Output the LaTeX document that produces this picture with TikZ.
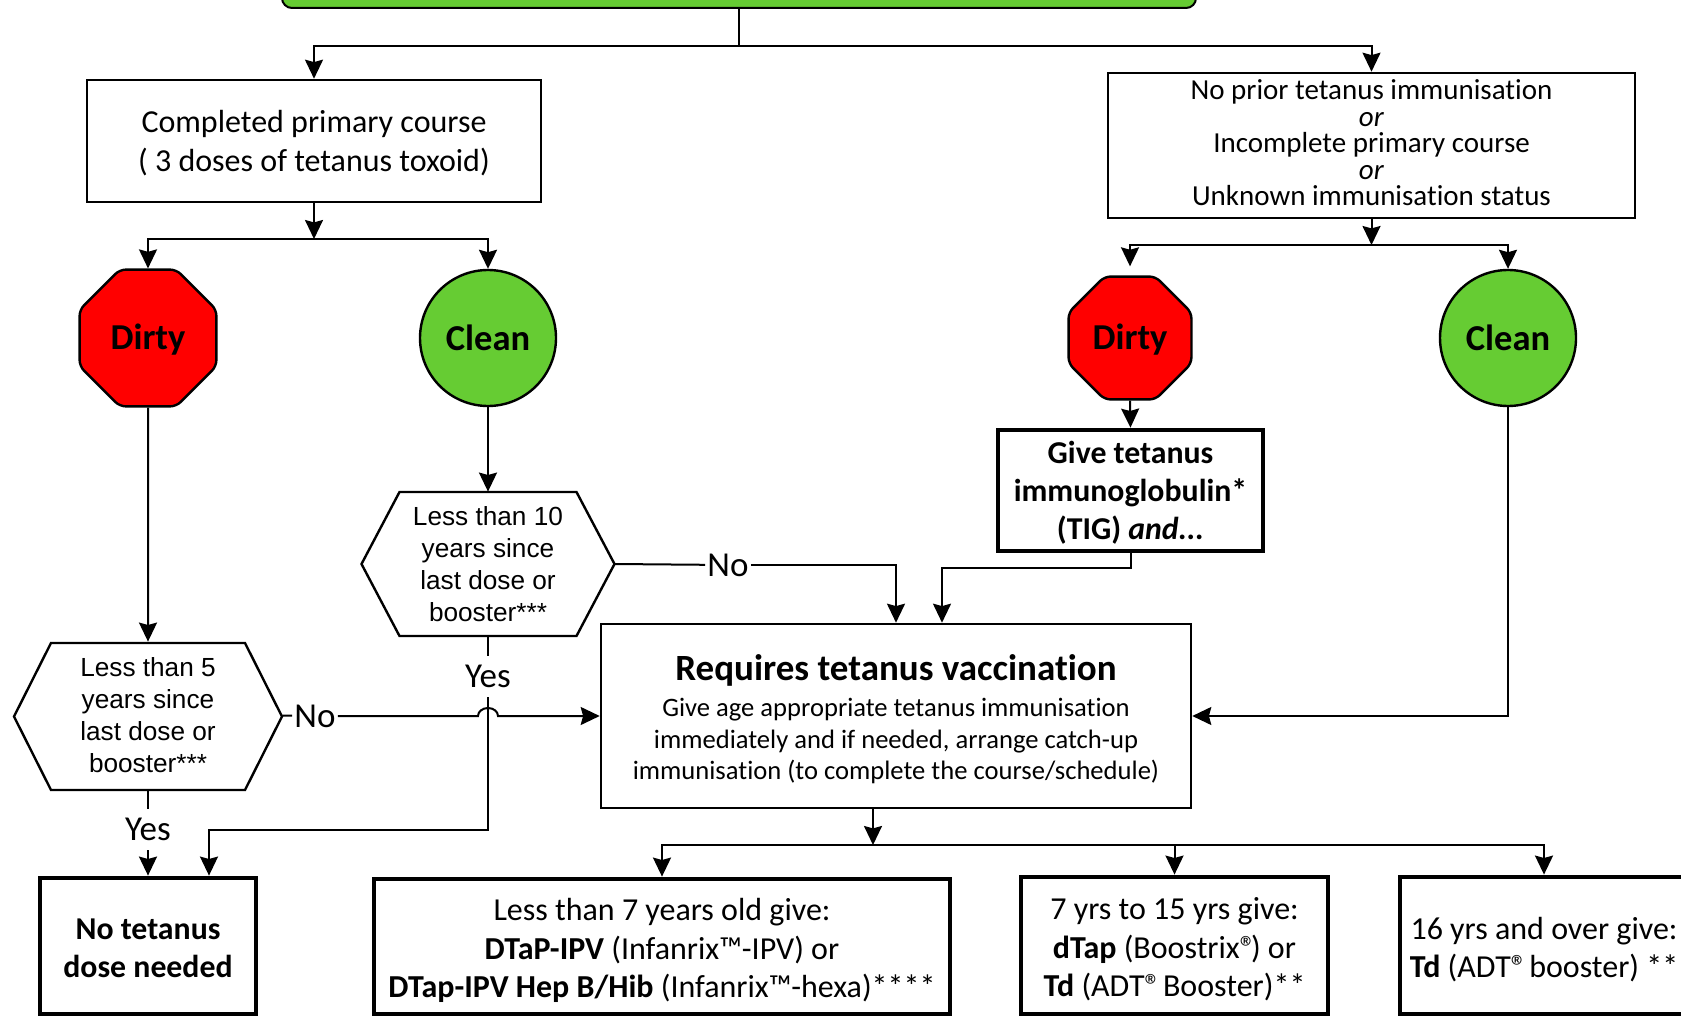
\documentclass[tikz,border=0pt]{standalone}
\usepackage{fontspec}
\setmainfont{Carlito}[Ligatures=NoCommon]
\newfontfamily\arialf{Liberation Sans}
\usetikzlibrary{arrows.meta,shapes.geometric,calc}
\definecolor{gr}{RGB}{102,204,51}
\definecolor{rd}{RGB}{255,0,0}
\newcommand\tightls{\lineskiplimit=-20pt\relax}
\newcommand\regm{®\kern-2.5pt\relax}
\begin{document}
\begin{tikzpicture}[x=0.5pt,y=-0.5pt,
  conn/.style={line width=1pt,-{Stealth[length=9.5pt,width=9pt,inset=1.2pt]}},
  plain/.style={line width=1pt},
  box/.style={draw,line width=1.3pt,inner sep=0pt,align=center},
  tbox/.style={draw,line width=2.4pt,inner sep=0pt,align=center},
  txt/.style={align=center,inner sep=0pt,font=\fontsize{16}{19.25}\selectfont},
  boldtxt/.style={align=center,inner sep=0pt,font=\fontsize{15.9}{19}\selectfont\bfseries},
  oct/.style={regular polygon,regular polygon sides=8,draw,line width=1.2pt,fill=rd,rounded corners=3pt,inner sep=0pt,font=\fontsize{18.25}{20}\selectfont\bfseries},
  cir/.style={circle,draw,line width=1.2pt,fill=gr,inner sep=0pt,minimum size=68pt,font=\fontsize{18.25}{20}\selectfont\bfseries},
  hexlbl/.style={inner sep=0pt,align=center,font=\arialf\fontsize{13.1}{16}\selectfont},
  hexline/.style={draw,line width=1.2pt,line join=miter},
  lbl/.style={fill=white,inner xsep=1pt,inner ysep=4.5pt,font=\fontsize{17.5}{18}\selectfont},
]
\useasboundingbox (0,0) rectangle (1681,1016);
\fill[white] (0,0) rectangle (1681,1016);
\clip (0,0) rectangle (1681,1016);

% top box (cut off)
\node[draw,line width=1pt,fill=gr,rounded corners=5pt,minimum width=457pt,minimum height=30pt,inner sep=0pt] (top) at (739,-22) {};

% main boxes
\node[box,minimum width=227pt,minimum height=61pt,
  label={[txt,yshift=-1pt]center:Completed primary course\\( 3 doses of tetanus toxoid)}] (comp) at (314,141) {};
\node[box,minimum width=263.5pt,minimum height=72.5pt,
  label={[align=center,inner sep=0pt,font=\fontsize{14.5}{13.25}\selectfont\tightls,yshift=1.3pt]center:No prior tetanus immunisation\\\textit{or}\\Incomplete primary course\\\textit{or}\\Unknown immunisation status}] (noprior) at (1371.5,145.5) {};

% wound types
\node[oct,minimum size=74pt,text depth=1.5pt] (dirtyL) at (148,338) {Dirty};
\node[cir] (cleanL) at (488,338) {Clean};
\node[oct,minimum size=66.5pt,text depth=1.5pt] (dirtyR) at (1130,338) {Dirty};
\node[cir] (cleanR) at (1508,338) {Clean};

% hexagons
\node[hexlbl,minimum width=134pt,minimum height=73.5pt] (hexA) at (148,715.5) {Less than 5\\years since\\last dose or\\booster***};
\draw[hexline] (14,716.5) -- (51,643) -- (245,643) -- (282,716.5) -- (245,790) -- (51,790) -- cycle;
\node[hexlbl,minimum width=126.5pt,minimum height=72pt] (hexB) at (488,564) {Less than 10\\years since\\last dose or\\booster***};
\draw[hexline] (361.5,564) -- (399.5,492) -- (576.5,492) -- (614.5,564) -- (576.5,636) -- (399.5,636) -- cycle;

% TIG
\node[tbox,minimum width=132.5pt,minimum height=60.5pt,
  label={[boldtxt,yshift=-1pt]center:Give tetanus\\immunoglobulin*\\(TIG) \textit{and...}}] (tig) at (1130.5,490.5) {};

% requires vaccination
\node[box,minimum width=295pt,minimum height=92pt] (req) at (896,716) {};
\node[font=\fontsize{18.5}{20}\selectfont\bfseries,inner sep=0pt] (reqt) at (896,670) {Requires tetanus vaccination};
\node[align=center,inner sep=0pt,font=\fontsize{13.3}{15.75}\selectfont] (reqb) at (896,741) {Give age appropriate tetanus immunisation\\immediately and if needed, arrange catch-up\\immunisation (to complete the course/schedule)};

% bottom boxes
\node[tbox,minimum width=108pt,minimum height=68pt,
  label={[boldtxt,yshift=-1.3pt]center:No tetanus\\dose needed}] (notet) at (148,946) {};
\node[tbox,minimum width=288pt,minimum height=67.5pt,
  label={[txt,yshift=-2pt]center:Less than 7 years old give:\\\textbf{DTaP-IPV} (Infanrix™-IPV) or\\\textbf{DTap-IPV Hep B/Hib} (Infanrix™-hexa)****}] (b7) at (662,946.5) {};
\node[tbox,minimum width=153.5pt,minimum height=68.5pt,
  label={[txt,yshift=-2pt]center:7 yrs to 15 yrs give:\\\textbf{dTap} (Boostrix\regm) or\\\textbf{Td} (ADT\regm\ Booster)**}] (b15) at (1174.5,945.5) {};
\node[tbox,minimum width=144pt,minimum height=68.5pt,
  label={[txt,yshift=-2pt]center:16 yrs and over give:\\\textbf{Td} (ADT\regm\ booster) **}] (b16) at (1544,945.5) {};

% labels
\node[lbl] (noA) at (315,716) {No};
\node[lbl] (yesA) at (148,829.5) {Yes};
\node[lbl] (noB) at (728,565) {No};
\node[lbl] (yesB) at (488,676.5) {Yes};

% junctions
\coordinate (j1) at (739,46);
\coordinate (j2) at (314,239);
\coordinate (j3) at (1371.5,245);
\coordinate (j4) at (873,845);

% connectors
\draw[plain] (top.south) -- (j1);
\draw[conn] (j1) -| (comp.north);
\draw[conn] (j1) -| (noprior.north);
\draw[conn] (comp.south) -- (j2);
\draw[conn] (j2) -| (dirtyL.north);
\draw[conn] (j2) -| (cleanL.north);
\draw[conn] (dirtyL.south) -- (hexA.north);
\draw[conn] (cleanL.south) -- (hexB.north);
\draw[plain] (hexA.east) -- (noA);
\draw[conn] (noA) -- (478,716) arc[start angle=180,end angle=360,x radius=10,y radius=8] -- (req.west);
\draw[plain] (hexA.south) -- (yesA);
\draw[conn] (yesA) -- (notet.north);
\draw[plain] (hexB.south) -- (yesB);
\draw[conn] (yesB) -- (488,830) -| ([xshift=30.5pt]notet.north);
\draw[plain] (hexB.east) -- (noB);
\draw[conn] (noB) -| (req.north);
\draw[conn] (tig.south) -- ++(0,15) -| ([xshift=23pt]req.north);
\draw[conn] (noprior.south) -- (j3);
\draw[conn] (j3) -| ([yshift=4.5pt]dirtyR.north);
\draw[conn] (j3) -| (cleanR.north);
\draw[conn] (dirtyR.south) -- (tig.north);
\draw[conn] (cleanR.south) |- (req.east);
\draw[conn] ([xshift=-11.5pt]req.south) -- (j4);
\draw[conn] (j4) -| (b7.north);
\draw[conn] (j4) -| (b15.north);
\draw[conn] (j4) -| (b16.north);
\end{tikzpicture}
\end{document}
